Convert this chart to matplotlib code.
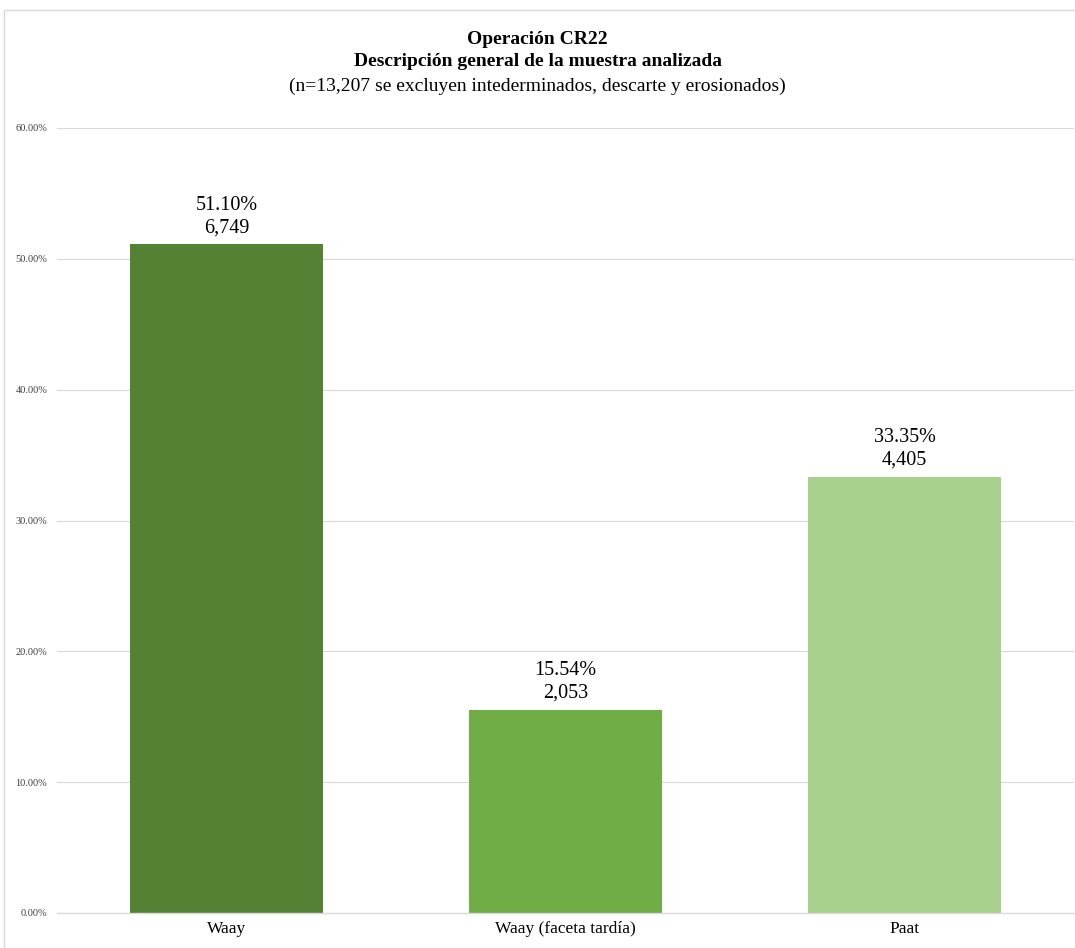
import matplotlib.pyplot as plt
from matplotlib.patches import Rectangle
from matplotlib.ticker import FuncFormatter

categorias = ["Waay", "Waay (faceta tardía)", "Paat"]
porcentajes = [51.10, 15.54, 33.35]
conteos = [6749, 2053, 4405]
colores = ["#548235", "#70AD47", "#A9D18E"]

plt.rcParams['font.family'] = ['Liberation Serif', 'DejaVu Serif']

fig = plt.figure(figsize=(10.75, 9.48), dpi=100)
ax = fig.add_axes([57 / 1075, 35 / 948, 1017 / 1075, 785 / 948])

x = range(len(categorias))
ax.bar(x, porcentajes, width=0.57, color=colores, zorder=3)
for i, (p, c) in enumerate(zip(porcentajes, conteos)):
    ax.annotate(f"{p:.2f}%\n{c:,}", (i, p), xytext=(0, 5), textcoords="offset points",
                ha="center", va="bottom", fontsize=14.5, linespacing=1.25)

ax.set_xlim(-0.5, 2.5)
ax.set_ylim(0, 60)
ax.set_yticks(range(0, 61, 10))
ax.yaxis.set_major_formatter(FuncFormatter(lambda v, _: f"{v:.2f}%"))
ax.set_xticks(list(x))
ax.set_xticklabels(categorias, fontsize=12.5)
ax.tick_params(axis="y", labelsize=7.5, length=0, pad=7, colors="#404040")
ax.tick_params(axis="x", length=0, pad=6)
ax.grid(axis="y", color="#D9D9D9", linewidth=0.8, zorder=0)
ax.axhline(0, color="#D9D9D9", linewidth=1, zorder=4, clip_on=False)
for s in ax.spines.values():
    s.set_visible(False)

fig.text(0.5, 1 - 39 / 948, "Operación CR22", ha="center", va="center", fontsize=14, fontweight="bold")
fig.text(0.5, 1 - 61 / 948, "Descripción general de la muestra analizada", ha="center", va="center",
         fontsize=14, fontweight="bold")
fig.text(0.5, 1 - 86 / 948, "(n=13,207 se excluyen intederminados, descarte y erosionados)", ha="center",
         va="center", fontsize=14)

fig.patches.append(Rectangle((4 / 1075, -0.1), 1.2, 1 - 10 / 948 + 0.1, transform=fig.transFigure,
                             fill=False, edgecolor="#D9D9D9", linewidth=1))

fig.savefig("out.png", dpi=100)
